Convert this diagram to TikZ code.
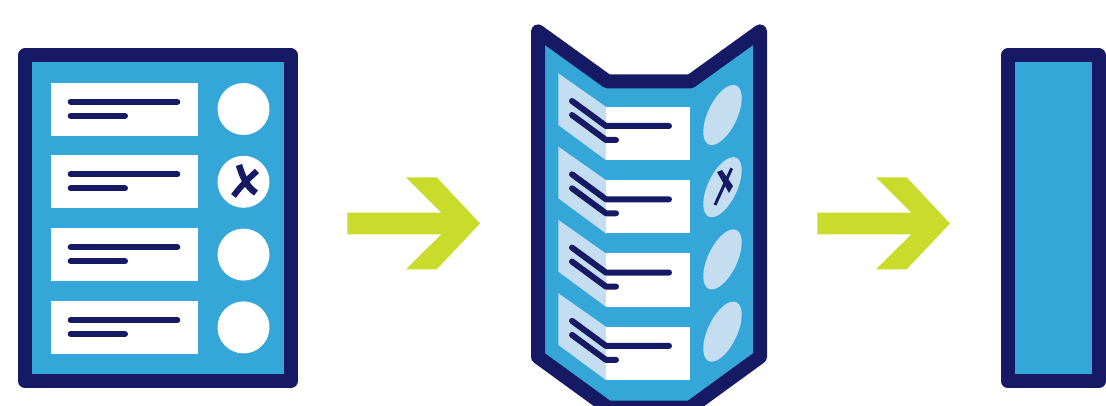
\documentclass[tikz,border=0pt]{standalone}
\definecolor{navy}{HTML}{161A64}
\definecolor{ballotblue}{HTML}{35A6D8}
\definecolor{paleblue}{HTML}{C5DDF0}
\definecolor{limegreen}{HTML}{C9DC2C}
\begin{document}
\begin{tikzpicture}[x=1pt,y=-1pt,
  frame/.style={draw=navy,fill=ballotblue,line width=14pt,line join=round},
  textline/.style={draw=navy,line width=6pt,line cap=round,line join=round},
  card/.style={fill=white},
  arrowshape/.style={fill=limegreen}]
\useasboundingbox (0,0) rectangle (1106,406);
\clip (0,0) rectangle (1106,406);
% ---------- left ballot ----------
\path[frame] (25,55.5) rectangle (291,381);
\foreach \k in {0,...,3}{
  \pgfmathsetmacro{\yk}{82.7+72.8*\k}
  \fill[card] (51,\yk) rectangle (198,\yk+53);
  \draw[textline] (70.7,\yk+19) -- (177.3,\yk+19);
  \draw[textline] (70.7,\yk+33) -- (125,\yk+33);
  \fill[white] (243.5,\yk+26.3) circle[radius=26pt];
}
% cross on left ballot
\draw[navy,line width=6.5pt] (239,165) .. controls (243,178) and (247,187) .. (256,193);
\draw[navy,line width=6pt] (257,171) .. controls (248,179) and (240,187) .. (233.5,196);
% ---------- arrows ----------
\foreach \s in {0,470}{
  \fill[arrowshape,xshift=\s pt] (347.3,212.7) -- (441.3,212.7) -- (406,177.3) -- (436.7,177.3)
     -- (480,223.5) -- (436.7,269.3) -- (406,269.3) -- (441.3,234.3) -- (347.3,234.3) -- cycle;
}
% ---------- folded ballot ----------
\path[frame] (538,31.4) -- (607.6,81.5) -- (690.4,81.5) -- (760,31.4) -- (760,356.9)
   -- (690.4,407.5) -- (607.6,407.5) -- (538,356.9) -- cycle;
\foreach \k in {0,...,3}{
  \pgfmathsetmacro{\mk}{73.3+73.3*\k}
  \fill[paleblue] (558.3,\mk) -- (606,\mk+33.6) -- (606,\mk+86.9) -- (558.3,\mk+51.7) -- cycle;
  \fill[card] (605.7,\mk+33.4) rectangle (690,\mk+86.7);
  \draw[textline] (572,\mk+27.7) -- (606,\mk+52.7) -- (669,\mk+52.7);
  \draw[textline] (572,\mk+41.7) -- (606,\mk+66.7) -- (616,\mk+66.7);
  \pgfmathsetmacro{\ek}{115+72.2*\k}
  \fill[paleblue,rotate around={64.7:(722.5,\ek)}] (722.5,\ek) ellipse[x radius=32.5pt,y radius=14.7pt];
}
% cross on folded ballot
\draw[navy,line width=3pt] (731.7,168.3) -- (715,205);
\fill[navy] (717,172) -- (722,170) -- (733,186) -- (729,193) -- cycle;
% ---------- folded flat ----------
\path[frame] (1008,55.5) rectangle (1098.7,381.3);
\end{tikzpicture}
\end{document}
